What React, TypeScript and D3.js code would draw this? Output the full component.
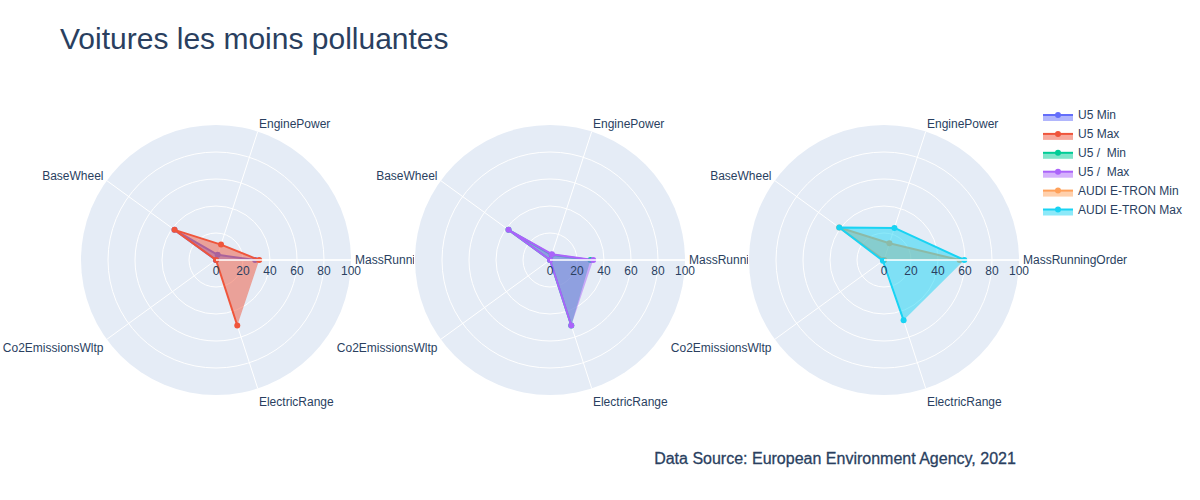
import * as d3 from "d3";

const categories = ["MassRunningOrder", "EnginePower", "BaseWheel", "Co2EmissionsWltp", "ElectricRange"];
const radialTicks = [0, 20, 40, 60, 80, 100];

const traceNames = ["U5 Min", "U5 Max", "U5 /  Min", "U5 /  Max", "AUDI E-TRON Min", "AUDI E-TRON Max"];
const traceColors = ["#636efa", "#EF553B", "#00cc96", "#ab63fa", "#FFA15A", "#19d3f3"];

// values per trace, in the order of categories
const u5Min = [29, 4, 38, 0, 0];
const u5Max = [32, 12, 38, 0, 51];
const u5SlashMin = [30, 4, 38, 0, 51];
const u5SlashMax = [32, 4.5, 38, 0, 51];
const audiMin = [56, 13, 41, 0, 0];
const audiMax = [59.5, 25, 41, 1, 47];

const traceValues = [u5Min, u5Max, u5SlashMin, u5SlashMax, audiMin, audiMax];
// which traces go in which polar subplot
const panelTraces = [[0, 1], [2, 3], [4, 5]];

const W = 1200;
const H = 500;
const R = 135;
const CY = 260;
const FONT = "'Liberation Sans', Arial, sans-serif";
const TEXT = "#2a3f5f";
const BG = "#E5ECF6";

const xCenter = d3.scalePoint<number>().domain([0, 1, 2]).range([216, 884]);
const rScale = d3.scaleLinear().domain([0, 100]).range([0, R]);
const angle = d3.scalePoint<string>().domain(categories).range([0, (Math.PI * 2 * 4) / 5]);

function Polar({ index }: { index: number }) {
  const cx = xCenter(index)!;
  const pt = (cat: string, v: number): [number, number] => {
    const a = angle(cat)!;
    return [rScale(v) * Math.cos(a), -rScale(v) * Math.sin(a)];
  };
  const line = d3.line<[number, number]>();
  const clipId = `clip-${index}`;
  const clipped = index < 2;

  return (
    <g>
      {clipped && (
        <defs>
          <clipPath id={clipId}>
            <rect x={0} y={0} width={cx + 198} height={H} />
          </clipPath>
        </defs>
      )}
      <g transform={`translate(${cx},${CY})`}>
        <circle r={R} fill={BG} />
        {radialTicks.slice(1, -1).map((t) => (
          <circle key={t} r={rScale(t)} fill="none" stroke="#fff" strokeWidth={1} />
        ))}
        {categories.map((c) => {
          const [x, y] = pt(c, 100);
          return <line key={c} x1={0} y1={0} x2={x} y2={y} stroke="#fff" strokeWidth={1} />;
        })}
        {panelTraces[index].map((ti) => {
          const pts = categories.map((c, k) => pt(c, traceValues[ti][k]));
          const color = traceColors[ti];
          return (
            <g key={ti}>
              <path d={line(pts)! + "Z"} fill={color} fillOpacity={0.5} stroke="none" />
              <path d={line(pts)!} fill="none" stroke={color} strokeWidth={2} strokeLinejoin="round" />
              {pts.map(([x, y], k) => (
                <circle key={k} cx={x} cy={y} r={3} fill={color} />
              ))}
            </g>
          );
        })}
        <line x1={0} y1={0} x2={R} y2={0} stroke="#fff" strokeWidth={1.5} />
      </g>
      <g clipPath={clipped ? `url(#${clipId})` : undefined} fontFamily={FONT} fontSize={12} fill={TEXT}>
        {radialTicks.map((t) => (
          <text key={t} x={cx + rScale(t)} y={CY + 15} textAnchor="middle">
            {t}
          </text>
        ))}
        {categories.map((c) => {
          const a = angle(c)!;
          const cos = Math.cos(a);
          const sin = Math.sin(a);
          const anchor = Math.abs(cos) < 0.05 ? "middle" : cos > 0 ? "start" : "end";
          const x = cx + 139 * cos;
          const y = CY + 3.5 - 145 * sin + (sin < 0 ? 5 : 2.5) * Math.abs(sin);
          return (
            <text key={c} x={x} y={y} textAnchor={anchor}>
              {c}
            </text>
          );
        })}
      </g>
    </g>
  );
}

function Legend() {
  const yScale = d3.scalePoint<string>().domain(traceNames).range([115, 209.5]);
  return (
    <g fontFamily={FONT} fontSize={12} fill={TEXT}>
      {traceNames.map((n, i) => {
        const y = yScale(n)!;
        const c = traceColors[i];
        return (
          <g key={n} transform={`translate(1043,${y})`}>
            <rect x={0} y={0} width={30} height={6} fill={c} fillOpacity={0.5} />
            <line x1={0} y1={0} x2={30} y2={0} stroke={c} strokeWidth={2} />
            <circle cx={15} cy={0} r={3} fill={c} />
            <text x={35} y={4} style={{ whiteSpace: "pre" }}>
              {n}
            </text>
          </g>
        );
      })}
    </g>
  );
}

export default function App() {
  return (
    <svg
      width={W}
      height={H}
      viewBox={`0 0 ${W} ${H}`}
      style={{ position: "absolute", left: 0, top: 0, background: "#fff" }}
    >
      <rect width={W} height={H} fill="#fff" />
      <text x={60} y={49} fontFamily={FONT} fontSize={30} fill={TEXT}>
        Voitures les moins polluantes
      </text>
      {[0, 1, 2].map((i) => (
        <Polar key={i} index={i} />
      ))}
      <Legend />
      <text
        x={835}
        y={464}
        textAnchor="middle"
        fontFamily={FONT}
        fontSize={16}
        fill={TEXT}
        stroke={TEXT}
        strokeWidth={0.3}
      >
        Data Source: European Environment Agency, 2021
      </text>
    </svg>
  );
}
